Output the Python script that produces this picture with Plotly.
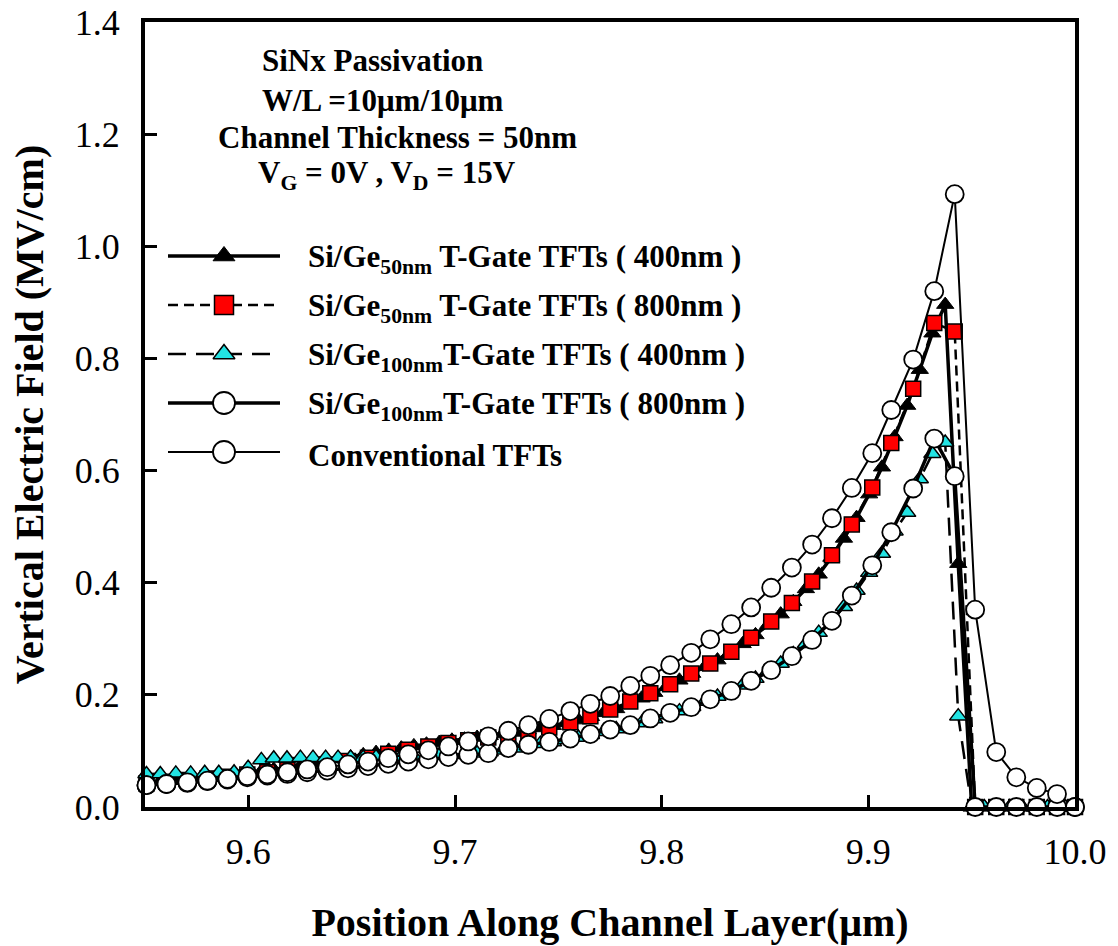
import plotly.graph_objects as go

# ---------------- data ----------------
# x positions of the circle / square series (um)
x_grid = [9.5507, 9.5604, 9.5705, 9.5802, 9.5899, 9.5995, 9.6092, 9.6189, 9.6285, 9.6382,
          9.6482, 9.6579, 9.6677, 9.6774, 9.6871, 9.6968, 9.7064, 9.7161, 9.7258, 9.7355,
          9.7456, 9.7558, 9.7655, 9.7751, 9.7848, 9.7945, 9.8041, 9.8143, 9.8235, 9.8337,
          9.8433, 9.8530, 9.8630, 9.8728, 9.8824, 9.8920, 9.9019, 9.9111, 9.9217, 9.9319,
          9.9418, 9.9517, 9.9619, 9.9716, 9.9815, 9.9913, 10.0]

conventional = [0.039, 0.041, 0.044, 0.047, 0.050, 0.055, 0.058, 0.062, 0.067, 0.071,
                0.076, 0.081, 0.087, 0.094, 0.101, 0.108, 0.117, 0.126, 0.136, 0.146,
                0.157, 0.171, 0.184, 0.198, 0.216, 0.234, 0.253, 0.275, 0.299, 0.326,
                0.356, 0.391, 0.427, 0.468, 0.515, 0.569, 0.631, 0.708, 0.798, 0.920,
                1.093, 0.352, 0.098, 0.053, 0.034, 0.023, 0.0]

sige100_800 = [0.039, 0.041, 0.043, 0.046, 0.049, 0.053, 0.056, 0.059, 0.062, 0.065,
               0.069, 0.073, 0.077, 0.081, 0.085, 0.089, 0.093, 0.096, 0.105, 0.111,
               0.116, 0.122, 0.130, 0.138, 0.146, 0.158, 0.168, 0.178, 0.192, 0.207,
               0.225, 0.244, 0.269, 0.298, 0.332, 0.377, 0.431, 0.490, 0.568, 0.657,
               0.590, 0.0, 0.0, 0.0, 0.0, 0.0, 0.0]

sige50_800 = [0.042, 0.045, 0.048, 0.051, 0.054, 0.058, 0.062, 0.066, 0.071, 0.076,
              0.082, 0.088, 0.095, 0.102, 0.108, 0.114, 0.119, 0.124, 0.128, 0.133,
              0.142, 0.151, 0.162, 0.174, 0.188, 0.203, 0.219, 0.238, 0.256, 0.277,
              0.302, 0.331, 0.364, 0.402, 0.449, 0.504, 0.570, 0.649, 0.746, 0.863,
              0.848, 0.0, 0.0, 0.0, 0.0, 0.0, 0.0]

# x positions of the two triangle series (finer mesh)
x_tri = [9.5507, 9.5574, 9.5649, 9.5721, 9.5789, 9.5857, 9.5931, 9.5999, 9.6063, 9.6123,
         9.6187, 9.6252, 9.6313, 9.6374, 9.6434, 9.6495, 9.6556, 9.6618, 9.6679, 9.6740,
         9.6801, 9.6862, 9.6924, 9.6985, 9.7046, 9.7107, 9.7168, 9.7230, 9.7291, 9.7352,
         9.7413, 9.7474, 9.7536, 9.7597, 9.7658, 9.7719, 9.7780, 9.7842, 9.7903, 9.7964,
         9.8025, 9.8086, 9.8148, 9.8209, 9.8270, 9.8331, 9.8392, 9.8454, 9.8515, 9.8576,
         9.8637, 9.8698, 9.8760, 9.8821, 9.8882, 9.8943, 9.9004, 9.9066, 9.9127, 9.9188,
         9.9249, 9.9310, 9.9372, 9.9435, 9.9500, 9.9561, 9.9622, 9.9684, 9.9745, 9.9806,
         9.9867, 9.9928, 9.9990]

sige50_400 = [0.044, 0.046, 0.048, 0.050, 0.052, 0.055, 0.058, 0.061, 0.064, 0.067,
              0.071, 0.074, 0.078, 0.082, 0.086, 0.089, 0.093, 0.097, 0.101, 0.105,
              0.109, 0.112, 0.115, 0.119, 0.121, 0.124, 0.127, 0.130, 0.133, 0.137,
              0.141, 0.145, 0.150, 0.155, 0.161, 0.168, 0.175, 0.184, 0.194, 0.204,
              0.215, 0.226, 0.238, 0.250, 0.262, 0.276, 0.291, 0.307, 0.325, 0.344,
              0.366, 0.389, 0.415, 0.445, 0.479, 0.516, 0.558, 0.606, 0.660, 0.716,
              0.780, 0.845, 0.896, 0.434, 0.0, 0.0, 0.0, 0.0, 0.0, 0.0,
              0.0, 0.0, 0.0]

sige100_400 = [0.059, 0.059, 0.060, 0.060, 0.061, 0.061, 0.062, 0.070, 0.084, 0.087,
               0.087, 0.088, 0.088, 0.088, 0.088, 0.088, 0.088, 0.089, 0.089, 0.090,
               0.090, 0.091, 0.092, 0.093, 0.094, 0.096, 0.098, 0.101, 0.105, 0.109,
               0.113, 0.116, 0.120, 0.124, 0.129, 0.134, 0.139, 0.144, 0.150, 0.157,
               0.164, 0.171, 0.179, 0.188, 0.197, 0.207, 0.217, 0.229, 0.242, 0.256,
               0.273, 0.291, 0.311, 0.332, 0.357, 0.386, 0.418, 0.452, 0.492, 0.525,
               0.585, 0.630, 0.650, 0.162, 0.0, 0.0, 0.0, 0.0, 0.0, 0.0,
               0.0, 0.0, 0.0]

x_ticks = [9.6, 9.7, 9.8, 9.9, 10.0]
y_ticks = [0.0, 0.2, 0.4, 0.6, 0.8, 1.0, 1.2, 1.4]

legend_labels = ["Si/Ge<sub>50nm</sub> T-Gate TFTs ( 400nm )",
                 "Si/Ge<sub>50nm</sub> T-Gate TFTs ( 800nm )",
                 "Si/Ge<sub>100nm</sub>T-Gate TFTs ( 400nm )",
                 "Si/Ge<sub>100nm</sub>T-Gate TFTs ( 800nm )",
                 "Conventional TFTs"]

info_lines = ["SiNx Passivation", "W/L =10\u03bcm/10\u03bcm",
              "Channel Thickness = 50nm",
              "V<sub>G</sub> = 0V , V<sub>D</sub> = 15V"]

# ---------------- styles ----------------
FONT = "Liberation Serif"
CYAN = "#22E3E3"
RED = "#FF0000"

styles = [
    dict(line=dict(color="black", width=3.5, dash="solid"),
         marker=dict(symbol="triangle-up", size=15, color="black",
                     line=dict(color="black", width=1))),
    dict(line=dict(color="black", width=2.5, dash="10px,6px"),
         marker=dict(symbol="square", size=15, color=RED,
                     line=dict(color="black", width=1.5))),
    dict(line=dict(color="black", width=2.5, dash="18px,10px"),
         marker=dict(symbol="triangle-up", size=15, color=CYAN,
                     line=dict(color="black", width=1.5))),
    dict(line=dict(color="black", width=3.5, dash="solid"),
         marker=dict(symbol="circle", size=18, color="white",
                     line=dict(color="black", width=1.8))),
    dict(line=dict(color="black", width=2, dash="solid"),
         marker=dict(symbol="circle", size=18, color="white",
                     line=dict(color="black", width=1.8))),
]

series = [(x_tri, sige50_400), (x_grid, sige50_800), (x_tri, sige100_400),
          (x_grid, sige100_800), (x_grid, conventional)]

fig = go.Figure()
for (xs, ys), st, name in zip(series, styles, legend_labels):
    fig.add_trace(go.Scatter(x=xs, y=ys, mode="lines+markers", name=name,
                             line=st["line"], marker=st["marker"],
                             cliponaxis=False, showlegend=False))

# ---------------- hand-drawn legend on a pixel overlay axis ----------------
row_y = [256, 305, 354, 403, 452]
for i, st in enumerate(styles):
    fig.add_trace(go.Scatter(x=[168, 280], y=[row_y[i], row_y[i]], mode="lines",
                             line=st["line"], xaxis="x2", yaxis="y2",
                             showlegend=False, hoverinfo="skip"))
    fig.add_trace(go.Scatter(x=[224], y=[row_y[i]], mode="markers",
                             marker=dict(st["marker"], size=st["marker"]["size"] + 4),
                             xaxis="x2", yaxis="y2", cliponaxis=False,
                             showlegend=False, hoverinfo="skip"))
    fig.add_annotation(x=306, y=row_y[i] + 3, xref="x2", yref="y2", text=legend_labels[i],
                       showarrow=False, xanchor="left", yanchor="middle",
                       font=dict(family=FONT, size=31, color="black", weight="bold"))

info_pos = [(372, 60), (383, 100), (397, 137), (387, 175)]
for txt, (px, py) in zip(info_lines, info_pos):
    fig.add_annotation(x=px, y=py, xref="x2", yref="y2", text=txt, showarrow=False,
                       xanchor="center", yanchor="middle",
                       font=dict(family=FONT, size=31, color="black", weight="bold"))

fig.update_layout(
    width=1118, height=946,
    margin=dict(l=145, r=43, t=22, b=139, autoexpand=False),
    paper_bgcolor="white", plot_bgcolor="white",
    font=dict(family=FONT, color="black"),
    xaxis=dict(range=[9.55, 10.0], tickvals=x_ticks, ticktext=[f"{v:.1f}" for v in x_ticks],
               ticks="inside", ticklen=12, tickwidth=3, tickcolor="black",
               showline=True, linewidth=4, linecolor="black", mirror=True,
               showgrid=False, zeroline=False, automargin=False,
               tickfont=dict(family=FONT, size=36, color="black"),
               ticklabelstandoff=10,
               title=dict(text="Position Along Channel Layer(\u03bcm)", standoff=38,
                          font=dict(family=FONT, size=40, color="black", weight="bold"))),
    yaxis=dict(range=[0, 1.4], tickvals=y_ticks, ticktext=[f"{v:.1f}" for v in y_ticks],
               ticks="inside", ticklen=12, tickwidth=3, tickcolor="black",
               showline=True, linewidth=4, linecolor="black", mirror=True,
               showgrid=False, zeroline=False, automargin=False,
               tickfont=dict(family=FONT, size=36, color="black"),
               ticklabelstandoff=14,
               title=dict(text="Vertical Electric Field (MV/cm)", standoff=20,
                          font=dict(family=FONT, size=40, color="black", weight="bold"))),
    xaxis2=dict(range=[145, 1075], overlaying="x", visible=False, fixedrange=True),
    yaxis2=dict(range=[807, 22], overlaying="y", visible=False, fixedrange=True),
)

fig.write_html("out.html")
